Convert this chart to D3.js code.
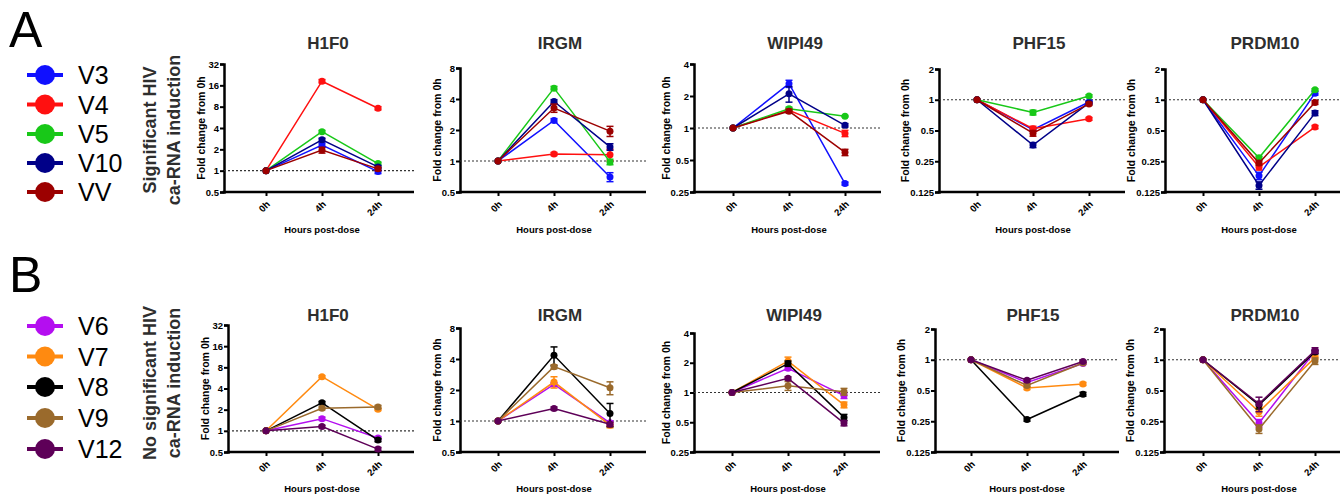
<!DOCTYPE html>
<html>
<head>
<meta charset="utf-8">
<script src="https://cdn.jsdelivr.net/npm/d3@7"></script>
<style>
  body { margin: 0; background: #fff; }
  svg { display: block; }
  text { font-family: "Liberation Sans", Arial, Helvetica, sans-serif; }
</style>
</head>
<body>
<svg id="fig" width="1340" height="495"></svg>
<script>
// ---- data -------------------------------------------------------------
const times = ["0h", "4h", "24h"];
const genes = ["H1F0", "IRGM", "WIPI49", "PHF15", "PRDM10"];

const ticksH1F0   = [0.5, 1, 2, 4, 8, 16, 32];
const ticksIRGM   = [0.5, 1, 2, 4, 8];
const ticksWIPI49 = [0.25, 0.5, 1, 2, 4];
const ticksPHF15  = [0.125, 0.25, 0.5, 1, 2];
const ticksPRDM10 = [0.125, 0.25, 0.5, 1, 2];
const geneTicks = [ticksH1F0, ticksIRGM, ticksWIPI49, ticksPHF15, ticksPRDM10];

const donorsA  = ["V3", "V4", "V5", "V10", "VV"];
const coloursA = ["#1010ff", "#ff1010", "#18c818", "#000088", "#9c0000"];
const donorsB  = ["V6", "V7", "V8", "V9", "V12"];
const coloursB = ["#b40ef0", "#ff8a10", "#000000", "#9a6a2c", "#5e0058"];

// fold change from 0h (mean) at 0h, 4h, 24h, one row per donor
const h1f0A   = [[1, 2.30, 0.97], [1, 18.3, 7.6], [1, 3.55, 1.26], [1, 2.72, 1.13], [1, 1.95, 1.06]];
const irgmA   = [[1, 2.48, 0.70], [1, 1.17, 1.15], [1, 5.10, 0.98], [1, 3.79, 1.37], [1, 3.27, 1.95]];
const wipi49A = [[1, 2.61, 0.30], [1, 1.47, 0.89], [1, 1.52, 1.29], [1, 2.10, 1.06], [1, 1.44, 0.59]];
const phf15A  = [[1, 0.51, 0.95], [1, 0.52, 0.65], [1, 0.75, 1.09], [1, 0.36, 0.93], [1, 0.47, 0.91]];
const prdm10A = [[1, 0.18, 1.16], [1, 0.22, 0.54], [1, 0.27, 1.25], [1, 0.145, 0.74], [1, 0.24, 0.94]];

const h1f0B   = [[1, 1.49, 0.79], [1, 5.90, 2.02], [1, 2.50, 0.74], [1, 2.09, 2.18], [1, 1.15, 0.55]];
const irgmB   = [[1, 2.27, 0.96], [1, 2.39, 0.91], [1, 4.34, 1.18], [1, 3.37, 2.10], [1, 1.32, 0.93]];
const wipi49B = [[1, 1.76, 0.93], [1, 2.08, 0.75], [1, 1.96, 0.56], [1, 1.17, 1.02], [1, 1.39, 0.49]];
const phf15B  = [[1, 0.60, 0.92], [1, 0.53, 0.58], [1, 0.26, 0.46], [1, 0.56, 0.93], [1, 0.63, 0.96]];
const prdm10B = [[1, 0.24, 1.21], [1, 0.31, 1.05], [1, 0.36, 1.19], [1, 0.21, 0.97], [1, 0.37, 1.23]];

// standard error of the mean, same layout
const h1f0A_sem   = [[0, 0.15, 0.06], [0, 1.0, 0.4], [0, 0.15, 0.06], [0, 0.15, 0.05], [0, 0.18, 0.06]];
const irgmA_sem   = [[0, 0.10, 0.07], [0, 0.04, 0.15], [0, 0.20, 0.06], [0, 0.15, 0.10], [0, 0.30, 0.22]];
const wipi49A_sem = [[0, 0.20, 0.01], [0, 0.05, 0.06], [0, 0.05, 0.02], [0, 0.35, 0.04], [0, 0.06, 0.04]];
const phf15A_sem  = [[0, 0.02, 0.03], [0, 0.03, 0.02], [0, 0.04, 0.03], [0, 0.02, 0.03], [0, 0.03, 0.03]];
const prdm10A_sem = [[0, 0.015, 0.05], [0, 0.015, 0.02], [0, 0.01, 0.03], [0, 0.012, 0.04], [0, 0.012, 0.04]];

const h1f0B_sem   = [[0, 0.08, 0.04], [0, 0.2, 0.08], [0, 0.12, 0.04], [0, 0.1, 0.12], [0, 0.05, 0.03]];
const irgmB_sem   = [[0, 0.08, 0.04], [0, 0.30, 0.05], [0, 0.90, 0.30], [0, 0.15, 0.30], [0, 0.05, 0.04]];
const wipi49B_sem = [[0, 0.08, 0.06], [0, 0.20, 0.05], [0, 0.12, 0.04], [0, 0.12, 0.08], [0, 0.05, 0.03]];
const phf15B_sem  = [[0, 0.02, 0.02], [0, 0.02, 0.02], [0, 0.01, 0.02], [0, 0.02, 0.02], [0, 0.02, 0.02]];
const prdm10B_sem = [[0, 0.02, 0.05], [0, 0.03, 0.04], [0, 0.03, 0.05], [0, 0.02, 0.07], [0, 0.06, 0.08]];

const valuesA = [h1f0A, irgmA, wipi49A, phf15A, prdm10A];
const semA    = [h1f0A_sem, irgmA_sem, wipi49A_sem, phf15A_sem, prdm10A_sem];
const valuesB = [h1f0B, irgmB, wipi49B, phf15B, prdm10B];
const semB    = [h1f0B_sem, irgmB_sem, wipi49B_sem, phf15B_sem, prdm10B_sem];

// ---- layout -----------------------------------------------------------
const rows = [
  { letter: "A", letterY: 47, groupLines: ["Significant HIV", "ca-RNA induction"], groupY: 130,
    legendY: [75, 104.5, 134, 163, 192], donors: donorsA, colours: coloursA,
    values: valuesA, sem: semA, titleY: 49, bottom: 192, top: [64, 68, 64, 69, 69],
    axisX: [224, 460, 694, 939, 1165], x0: [266, 498, 733, 977, 1203], xLabelY: 233 },
  { letter: "B", letterY: 292, groupLines: ["No significant HIV", "ca-RNA induction"], groupY: 383,
    legendY: [326, 356.5, 387, 418, 449], donors: donorsB, colours: coloursB,
    values: valuesB, sem: semB, titleY: 321, bottom: 452, top: [325, 328, 333, 329, 329],
    axisX: [228, 460, 694, 935, 1164], x0: [266, 498, 732, 971, 1203], xLabelY: 492 }
];
const step = 56;
const textDark = "#2e2e2e";

const svg = d3.select("#fig");

rows.forEach(row => {
  // panel letter
  svg.append("text").attr("x", 9).attr("y", row.letterY)
    .attr("font-size", 50).attr("fill", "#000").text(row.letter);

  // legend
  const lg = svg.append("g");
  row.donors.forEach((d, i) => {
    const cy = row.legendY[i];
    lg.append("line").attr("x1", 27).attr("x2", 63).attr("y1", cy).attr("y2", cy)
      .attr("stroke", row.colours[i]).attr("stroke-width", 4);
    lg.append("circle").attr("cx", 45).attr("cy", cy).attr("r", 10).attr("fill", row.colours[i]);
    lg.append("text").attr("x", 78).attr("y", cy + 9).attr("font-size", 25).attr("fill", "#000").text(d);
  });

  // group label (rotated, two lines)
  row.groupLines.forEach((t, k) => {
    svg.append("text")
      .attr("transform", `translate(${k === 0 ? 156 : 180},${row.groupY}) rotate(-90)`)
      .attr("text-anchor", "middle").attr("font-size", 18).attr("font-weight", "bold")
      .attr("fill", textDark).text(t);
  });

  // gene panels
  genes.forEach((gene, gi) => {
    const ax = row.axisX[gi], x0 = row.x0[gi];
    const top = row.top[gi], bottom = row.bottom;
    const ticks = geneTicks[gi];
    const axisEnd = x0 + 2 * step + 36;

    const x = d3.scalePoint().domain(times).range([x0, x0 + 2 * step]);
    const y = d3.scaleLog().base(2).domain([ticks[0], ticks[ticks.length - 1]]).range([bottom, top]);

    const g = svg.append("g");

    // title
    g.append("text").attr("x", x0 + step + 6).attr("y", row.titleY)
      .attr("text-anchor", "middle").attr("font-size", 17).attr("font-weight", "bold")
      .attr("fill", textDark).text(gene);

    // y axis
    const yAxis = g.append("g").attr("transform", `translate(${ax},0)`)
      .call(d3.axisLeft(y).tickValues(ticks).tickFormat(d => String(d))
        .tickSizeOuter(0).tickSize(4).tickPadding(1));
    yAxis.select(".domain").attr("stroke", "#000").attr("stroke-width", 2.5);
    yAxis.selectAll(".tick line").attr("stroke", "#000").attr("stroke-width", 2);
    yAxis.selectAll(".tick text").attr("font-size", 9.5).attr("font-weight", "bold")
      .attr("fill", "#000").style("font-family", '"Liberation Sans", Arial, sans-serif');

    // y axis title placed just left of the widest tick label
    let maxW = 0;
    yAxis.selectAll(".tick text").each(function () { maxW = Math.max(maxW, this.getComputedTextLength()); });
    const yLabX = ax - 5 - maxW - 1;
    g.append("text")
      .attr("transform", `translate(${yLabX},${(top + bottom) / 2}) rotate(-90)`)
      .attr("text-anchor", "middle").attr("font-size", 10.5).attr("font-weight", "bold")
      .attr("fill", "#000").text("Fold change from 0h");

    // x axis
    const xAxis = g.append("g").attr("transform", `translate(0,${bottom})`)
      .call(d3.axisBottom(x).tickSizeOuter(0).tickSize(4));
    xAxis.select(".domain").remove();
    xAxis.selectAll(".tick line").attr("stroke", "#000").attr("stroke-width", 2);
    xAxis.selectAll(".tick text")
      .attr("font-size", 9.5).attr("font-weight", "bold").attr("fill", "#000")
      .style("font-family", '"Liberation Sans", Arial, sans-serif')
      .attr("text-anchor", "end").attr("dy", null)
      .attr("transform", "translate(4,13) rotate(-45)").attr("y", 0).attr("x", 0);
    g.append("line").attr("x1", ax - 1.25).attr("x2", axisEnd).attr("y1", bottom).attr("y2", bottom)
      .attr("stroke", "#000").attr("stroke-width", 2.5);

    g.append("text").attr("x", x("4h")).attr("y", row.xLabelY)
      .attr("text-anchor", "middle").attr("font-size", 9.5).attr("font-weight", "bold")
      .attr("fill", "#000").text("Hours post-dose");

    // reference line at fold change 1
    g.append("line").attr("x1", ax).attr("x2", axisEnd).attr("y1", y(1)).attr("y2", y(1))
      .attr("stroke", "#333").attr("stroke-width", 1.1).attr("stroke-dasharray", "2,2");

    // series
    const line = d3.line().x((v, i) => x(times[i])).y(v => y(v));
    row.donors.forEach((d, di) => {
      const vals = row.values[gi][di];
      const errs = row.sem[gi][di];
      const col = row.colours[di];
      const sg = g.append("g");
      sg.append("path").attr("d", line(vals)).attr("fill", "none")
        .attr("stroke", col).attr("stroke-width", 1.5);
      vals.forEach((v, i) => {
        const e = errs[i];
        const cx = x(times[i]);
        if (e > 0) {
          const y1 = y(v + e), y2 = y(Math.max(v - e, ticks[0] * 0.5));
          sg.append("line").attr("x1", cx).attr("x2", cx).attr("y1", y1).attr("y2", y2)
            .attr("stroke", col).attr("stroke-width", 1.5);
          [y1, y2].forEach(yy => sg.append("line").attr("x1", cx - 3.5).attr("x2", cx + 3.5)
            .attr("y1", yy).attr("y2", yy).attr("stroke", col).attr("stroke-width", 1.5));
        }
        sg.append("circle").attr("cx", cx).attr("cy", y(v)).attr("r", 3.5).attr("fill", col);
      });
    });
  });
});
</script>
</body>
</html>
